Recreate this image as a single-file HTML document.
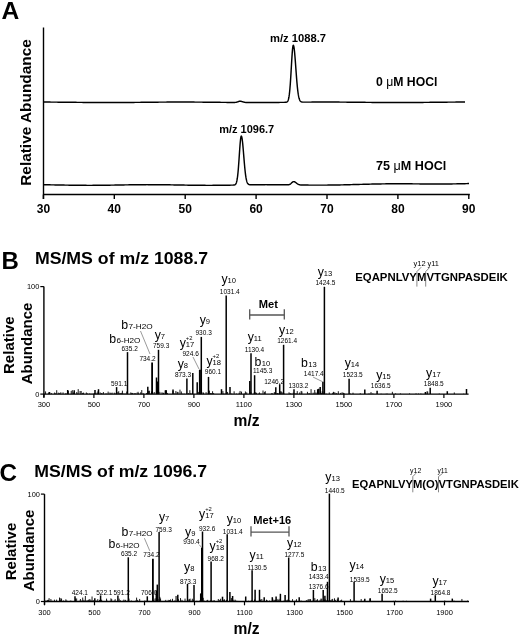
<!DOCTYPE html>
<html><head><meta charset="utf-8"><style>
html,body{margin:0;padding:0;background:#fff;}
body{width:520px;height:634px;overflow:hidden;}
svg{display:block;font-family:"Liberation Sans", sans-serif;filter:grayscale(1);}
</style></head><body>
<svg width="520" height="634" viewBox="0 0 520 634">
<rect width="520" height="634" fill="#fff"/>
<text x="1.6" y="18.6" font-size="24.6" font-weight="bold" fill="#000">A</text>
<line x1="43.50" y1="27.50" x2="43.50" y2="199.00" stroke="#000" stroke-width="1.4"/>
<line x1="43.00" y1="194.50" x2="469.80" y2="194.50" stroke="#000" stroke-width="1.3"/>
<line x1="43.40" y1="194.50" x2="43.40" y2="199.00" stroke="#000" stroke-width="1.4"/>
<text x="43.4" y="212.5" font-size="12" font-weight="bold" text-anchor="middle" fill="#000">30</text>
<line x1="114.30" y1="194.50" x2="114.30" y2="199.00" stroke="#000" stroke-width="1.4"/>
<text x="114.3" y="212.5" font-size="12" font-weight="bold" text-anchor="middle" fill="#000">40</text>
<line x1="185.20" y1="194.50" x2="185.20" y2="199.00" stroke="#000" stroke-width="1.4"/>
<text x="185.2" y="212.5" font-size="12" font-weight="bold" text-anchor="middle" fill="#000">50</text>
<line x1="256.10" y1="194.50" x2="256.10" y2="199.00" stroke="#000" stroke-width="1.4"/>
<text x="256.1" y="212.5" font-size="12" font-weight="bold" text-anchor="middle" fill="#000">60</text>
<line x1="327.00" y1="194.50" x2="327.00" y2="199.00" stroke="#000" stroke-width="1.4"/>
<text x="327.0" y="212.5" font-size="12" font-weight="bold" text-anchor="middle" fill="#000">70</text>
<line x1="397.90" y1="194.50" x2="397.90" y2="199.00" stroke="#000" stroke-width="1.4"/>
<text x="397.9" y="212.5" font-size="12" font-weight="bold" text-anchor="middle" fill="#000">80</text>
<line x1="468.80" y1="194.50" x2="468.80" y2="199.00" stroke="#000" stroke-width="1.4"/>
<text x="468.8" y="212.5" font-size="12" font-weight="bold" text-anchor="middle" fill="#000">90</text>
<text transform="translate(31.2,112.5) rotate(-90)" font-size="15.4" font-weight="bold" text-anchor="middle">Relative Abundance</text>
<polyline points="44.00,102.06 45.00,102.07 46.00,102.07 47.00,102.08 48.00,102.08 49.00,102.09 50.00,102.09 51.00,102.10 52.00,102.11 53.00,102.11 54.00,102.12 55.00,102.13 56.00,102.14 57.00,102.15 58.00,102.15 59.00,102.16 60.00,102.17 61.00,102.18 62.00,102.19 63.00,102.20 64.00,102.21 65.00,102.22 66.00,102.23 67.00,102.24 68.00,102.25 69.00,102.26 70.00,102.28 71.00,102.29 72.00,102.30 73.00,102.31 74.00,102.32 75.00,102.33 76.00,102.34 77.00,102.35 78.00,102.36 79.00,102.37 80.00,102.38 81.00,102.39 82.00,102.40 83.00,102.41 84.00,102.42 85.00,102.43 86.00,102.44 87.00,102.45 88.00,102.46 89.00,102.47 90.00,102.47 91.00,102.48 92.00,102.49 93.00,102.50 94.00,102.50 95.00,102.51 96.00,102.51 97.00,102.52 98.00,102.52 99.00,102.53 100.00,102.53 101.00,102.54 102.00,102.54 103.00,102.54 104.00,102.55 105.00,102.55 106.00,102.55 107.00,102.55 108.00,102.55 109.00,102.55 110.00,102.55 111.00,102.55 112.00,102.55 113.00,102.54 114.00,102.54 115.00,102.54 116.00,102.54 117.00,102.53 118.00,102.53 119.00,102.52 120.00,102.52 121.00,102.51 122.00,102.51 123.00,102.50 124.00,102.49 125.00,102.49 126.00,102.48 127.00,102.47 128.00,102.46 129.00,102.46 130.00,102.45 131.00,102.44 132.00,102.43 133.00,102.42 134.00,102.41 135.00,102.40 136.00,102.39 137.00,102.38 138.00,102.37 139.00,102.36 140.00,102.35 141.00,102.34 142.00,102.33 143.00,102.32 144.00,102.31 145.00,102.29 146.00,102.28 147.00,102.27 148.00,102.26 149.00,102.25 150.00,102.24 151.00,102.23 152.00,102.22 153.00,102.21 154.00,102.20 155.00,102.19 156.00,102.18 157.00,102.17 158.00,102.16 159.00,102.15 160.00,102.14 161.00,102.14 162.00,102.13 163.00,102.12 164.00,102.11 165.00,102.11 166.00,102.10 167.00,102.09 168.00,102.09 169.00,102.08 170.00,102.08 171.00,102.07 172.00,102.07 173.00,102.06 174.00,102.06 175.00,102.06 176.00,102.06 177.00,102.05 178.00,102.05 179.00,102.05 180.00,102.05 181.00,102.05 182.00,102.05 183.00,102.05 184.00,102.05 185.00,102.05 186.00,102.06 187.00,102.06 188.00,102.06 189.00,102.07 190.00,102.07 191.00,102.07 192.00,102.08 193.00,102.09 194.00,102.09 195.00,102.10 196.00,102.10 197.00,102.11 198.00,102.12 199.00,102.13 200.00,102.13 201.00,102.14 202.00,102.15 203.00,102.16 204.00,102.17 205.00,102.18 206.00,102.19 207.00,102.20 208.00,102.21 209.00,102.22 210.00,102.23 211.00,102.24 212.00,102.25 213.00,102.26 214.00,102.27 215.00,102.28 216.00,102.29 217.00,102.30 218.00,102.31 219.00,102.32 220.00,102.33 221.00,102.35 222.00,102.36 223.00,102.37 224.00,102.38 225.00,102.39 226.00,102.40 227.00,102.41 228.00,102.42 229.00,102.43 230.00,102.44 231.00,102.44 231.25,102.45 231.50,102.45 231.75,102.45 232.00,102.45 232.25,102.46 232.50,102.46 232.75,102.46 233.00,102.46 233.25,102.46 233.50,102.46 233.75,102.46 234.00,102.46 234.25,102.45 234.50,102.44 234.75,102.43 235.00,102.42 235.25,102.40 235.50,102.38 235.75,102.35 236.00,102.31 236.25,102.26 236.50,102.21 236.75,102.14 237.00,102.07 237.25,101.99 237.50,101.90 237.75,101.81 238.00,101.71 238.25,101.61 238.50,101.52 238.75,101.43 239.00,101.36 239.25,101.30 239.50,101.25 239.75,101.22 240.00,101.21 240.25,101.22 240.50,101.24 240.75,101.27 241.00,101.32 241.25,101.37 241.50,101.43 241.75,101.50 242.00,101.58 242.25,101.66 242.50,101.74 242.75,101.82 243.00,101.89 243.25,101.97 243.50,102.04 243.75,102.11 244.00,102.17 244.25,102.23 244.50,102.28 244.75,102.32 245.00,102.36 245.25,102.39 245.50,102.42 245.75,102.45 246.00,102.47 246.25,102.48 246.50,102.50 246.75,102.51 247.00,102.52 247.25,102.52 247.50,102.53 247.75,102.53 248.00,102.54 248.25,102.54 248.50,102.54 248.75,102.54 249.00,102.54 249.25,102.55 249.50,102.55 249.75,102.55 250.00,102.55 251.00,102.55 252.00,102.55 253.00,102.55 254.00,102.55 255.00,102.55 256.00,102.55 257.00,102.55 258.00,102.54 259.00,102.54 260.00,102.54 261.00,102.53 262.00,102.53 263.00,102.53 264.00,102.52 265.00,102.52 266.00,102.51 267.00,102.50 268.00,102.50 269.00,102.49 270.00,102.48 271.00,102.48 272.00,102.47 273.00,102.46 274.00,102.45 275.00,102.44 276.00,102.43 277.00,102.42 278.00,102.42 279.00,102.41 280.00,102.40 281.00,102.39 281.25,102.38 281.50,102.38 281.75,102.38 282.00,102.38 282.25,102.37 282.50,102.37 282.75,102.37 283.00,102.36 283.25,102.36 283.50,102.36 283.75,102.36 284.00,102.35 284.25,102.35 284.50,102.35 284.75,102.34 285.00,102.33 285.25,102.32 285.50,102.31 285.75,102.29 286.00,102.26 286.25,102.22 286.50,102.15 286.75,102.06 287.00,101.92 287.25,101.73 287.50,101.47 287.75,101.10 288.00,100.61 288.25,99.96 288.50,99.11 288.75,98.02 289.00,96.65 289.25,94.96 289.50,92.92 289.75,90.50 290.00,87.68 290.25,84.47 290.50,80.89 290.75,77.00 291.00,72.85 291.25,68.57 291.50,64.26 291.75,60.06 292.00,56.12 292.25,52.60 292.50,49.64 292.75,47.37 293.00,45.89 293.25,45.27 293.50,45.43 293.75,46.16 294.00,47.44 294.25,49.21 294.50,51.44 294.75,54.06 295.00,57.00 295.25,60.18 295.50,63.53 295.75,66.96 296.00,70.41 296.25,73.81 296.50,77.10 296.75,80.22 297.00,83.15 297.25,85.85 297.50,88.31 297.75,90.52 298.00,92.47 298.25,94.18 298.50,95.65 298.75,96.90 299.00,97.96 299.25,98.84 299.50,99.56 299.75,100.14 300.00,100.61 300.25,100.99 300.50,101.28 300.75,101.51 301.00,101.68 301.25,101.81 301.50,101.91 301.75,101.98 302.00,102.03 302.25,102.07 302.50,102.10 302.75,102.11 303.00,102.13 303.25,102.13 303.50,102.14 303.75,102.14 304.00,102.14 304.25,102.14 304.50,102.14 304.75,102.14 305.00,102.14 305.25,102.14 305.50,102.14 305.75,102.13 306.00,102.13 306.25,102.13 306.50,102.13 306.75,102.13 307.00,102.12 307.25,102.12 307.50,102.12 307.75,102.12 308.00,102.12 308.25,102.11 308.50,102.11 308.75,102.11 309.00,102.11 309.25,102.11 309.50,102.11 309.75,102.10 310.00,102.10 311.00,102.10 312.00,102.09 313.00,102.08 314.00,102.08 315.00,102.07 316.00,102.07 317.00,102.07 318.00,102.06 319.00,102.06 320.00,102.06 321.00,102.05 322.00,102.05 323.00,102.05 324.00,102.05 325.00,102.05 326.00,102.05 327.00,102.05 328.00,102.05 329.00,102.05 330.00,102.06 331.00,102.06 332.00,102.06 333.00,102.06 334.00,102.07 335.00,102.07 336.00,102.08 337.00,102.08 338.00,102.09 339.00,102.09 340.00,102.10 341.00,102.11 342.00,102.11 343.00,102.12 344.00,102.13 345.00,102.14 346.00,102.15 347.00,102.15 348.00,102.16 349.00,102.17 350.00,102.18 351.00,102.19 352.00,102.20 353.00,102.21 354.00,102.22 355.00,102.23 356.00,102.24 357.00,102.25 358.00,102.26 359.00,102.28 360.00,102.29 361.00,102.30 362.00,102.31 363.00,102.32 364.00,102.33 365.00,102.34 366.00,102.35 367.00,102.36 368.00,102.37 369.00,102.38 370.00,102.39 371.00,102.40 372.00,102.41 373.00,102.42 374.00,102.43 375.00,102.44 376.00,102.45 377.00,102.46 378.00,102.47 379.00,102.47 380.00,102.48 381.00,102.49 382.00,102.50 383.00,102.50 384.00,102.51 385.00,102.51 386.00,102.52 387.00,102.52 388.00,102.53 389.00,102.53 390.00,102.54 391.00,102.54 392.00,102.54 393.00,102.55 394.00,102.55 395.00,102.55 396.00,102.55 397.00,102.55 398.00,102.55 399.00,102.55 400.00,102.55 401.00,102.55 402.00,102.55 403.00,102.54 404.00,102.54 405.00,102.54 406.00,102.53 407.00,102.53 408.00,102.52 409.00,102.52 410.00,102.51 411.00,102.51 412.00,102.50 413.00,102.49 414.00,102.49 415.00,102.48 416.00,102.47 417.00,102.46 418.00,102.46 419.00,102.45 420.00,102.44 421.00,102.43 422.00,102.42 423.00,102.41 424.00,102.40 425.00,102.39 426.00,102.38 427.00,102.37 428.00,102.36 429.00,102.35 430.00,102.34 431.00,102.33 432.00,102.32 433.00,102.31 434.00,102.29 435.00,102.28 436.00,102.27 437.00,102.26 438.00,102.25 439.00,102.24 440.00,102.23 441.00,102.22 442.00,102.21 443.00,102.20 444.00,102.19 445.00,102.18 446.00,102.17 447.00,102.16 448.00,102.15 449.00,102.14 450.00,102.14 451.00,102.13 452.00,102.12 453.00,102.11 454.00,102.11 455.00,102.10 456.00,102.09 457.00,102.09 458.00,102.08 459.00,102.08 460.00,102.07 461.00,102.07 462.00,102.06 463.00,102.06 464.00,102.06 465.00,102.06" fill="none" stroke="#000" stroke-width="1.45" stroke-linejoin="round"/>
<polyline points="44.00,184.74 45.00,184.76 46.00,184.77 47.00,184.78 48.00,184.80 49.00,184.81 50.00,184.83 51.00,184.85 52.00,184.86 53.00,184.88 54.00,184.90 55.00,184.91 56.00,184.93 57.00,184.95 58.00,184.97 59.00,184.99 60.00,185.01 61.00,185.02 62.00,185.04 63.00,185.06 64.00,185.08 65.00,185.10 66.00,185.11 67.00,185.13 68.00,185.15 69.00,185.16 70.00,185.18 71.00,185.20 72.00,185.21 73.00,185.23 74.00,185.24 75.00,185.25 76.00,185.26 77.00,185.28 78.00,185.29 79.00,185.30 80.00,185.31 81.00,185.32 82.00,185.32 83.00,185.33 84.00,185.34 85.00,185.34 86.00,185.34 87.00,185.35 88.00,185.35 89.00,185.35 90.00,185.35 91.00,185.35 92.00,185.35 93.00,185.34 94.00,185.34 95.00,185.34 96.00,185.33 97.00,185.32 98.00,185.32 99.00,185.31 100.00,185.30 101.00,185.29 102.00,185.28 103.00,185.27 104.00,185.25 105.00,185.24 106.00,185.23 107.00,185.21 108.00,185.20 109.00,185.18 110.00,185.17 111.00,185.15 112.00,185.13 113.00,185.12 114.00,185.10 115.00,185.08 116.00,185.06 117.00,185.04 118.00,185.03 119.00,185.01 120.00,184.99 121.00,184.97 122.00,184.95 123.00,184.93 124.00,184.92 125.00,184.90 126.00,184.88 127.00,184.86 128.00,184.85 129.00,184.83 130.00,184.81 131.00,184.80 132.00,184.78 133.00,184.77 134.00,184.76 135.00,184.74 136.00,184.73 137.00,184.72 138.00,184.71 139.00,184.70 140.00,184.69 141.00,184.68 142.00,184.68 143.00,184.67 144.00,184.66 145.00,184.66 146.00,184.66 147.00,184.65 148.00,184.65 149.00,184.65 150.00,184.65 151.00,184.65 152.00,184.65 153.00,184.66 154.00,184.66 155.00,184.67 156.00,184.67 157.00,184.68 158.00,184.69 159.00,184.70 160.00,184.70 161.00,184.72 162.00,184.73 163.00,184.74 164.00,184.75 165.00,184.76 166.00,184.78 167.00,184.79 168.00,184.81 169.00,184.82 170.00,184.84 171.00,184.86 172.00,184.87 173.00,184.89 174.00,184.91 175.00,184.93 176.00,184.94 177.00,184.96 178.00,184.98 179.00,185.00 180.00,185.02 181.00,185.04 182.00,185.05 183.00,185.07 184.00,185.09 185.00,185.11 186.00,185.12 187.00,185.14 188.00,185.16 189.00,185.17 190.00,185.19 191.00,185.21 192.00,185.22 193.00,185.23 194.00,185.25 195.00,185.26 196.00,185.27 197.00,185.28 198.00,185.29 199.00,185.30 200.00,185.31 201.00,185.32 202.00,185.33 203.00,185.33 204.00,185.34 205.00,185.34 206.00,185.35 207.00,185.35 208.00,185.35 209.00,185.35 210.00,185.35 211.00,185.35 212.00,185.35 213.00,185.34 214.00,185.34 215.00,185.33 216.00,185.33 217.00,185.32 218.00,185.31 219.00,185.30 220.00,185.29 221.00,185.28 222.00,185.27 223.00,185.26 224.00,185.25 225.00,185.23 226.00,185.22 227.00,185.20 228.00,185.19 229.00,185.17 229.25,185.17 229.50,185.16 229.75,185.16 230.00,185.16 230.25,185.15 230.50,185.15 230.75,185.14 231.00,185.14 231.25,185.13 231.50,185.13 231.75,185.13 232.00,185.12 232.25,185.12 232.50,185.11 232.75,185.10 233.00,185.10 233.25,185.09 233.50,185.07 233.75,185.05 234.00,185.02 234.25,184.98 234.50,184.93 234.75,184.84 235.00,184.73 235.25,184.56 235.50,184.33 235.75,184.01 236.00,183.59 236.25,183.03 236.50,182.30 236.75,181.36 237.00,180.18 237.25,178.73 237.50,176.98 237.75,174.90 238.00,172.48 238.25,169.72 238.50,166.65 238.75,163.31 239.00,159.75 239.25,156.07 239.50,152.37 239.75,148.77 240.00,145.39 240.25,142.37 240.50,139.83 240.75,137.88 241.00,136.61 241.25,136.07 241.50,136.22 241.75,136.90 242.00,138.08 242.25,139.72 242.50,141.78 242.75,144.18 243.00,146.87 243.25,149.77 243.50,152.79 243.75,155.87 244.00,158.93 244.25,161.93 244.50,164.79 244.75,167.49 245.00,169.99 245.25,172.26 245.50,174.30 245.75,176.11 246.00,177.68 246.25,179.04 246.50,180.18 246.75,181.15 247.00,181.94 247.25,182.59 247.50,183.11 247.75,183.52 248.00,183.84 248.25,184.09 248.50,184.29 248.75,184.43 249.00,184.54 249.25,184.61 249.50,184.67 249.75,184.71 250.00,184.74 250.25,184.75 250.50,184.77 250.75,184.77 251.00,184.78 251.25,184.78 251.50,184.78 251.75,184.78 252.00,184.77 252.25,184.77 252.50,184.77 252.75,184.76 253.00,184.76 253.25,184.76 253.50,184.75 253.75,184.75 254.00,184.75 254.25,184.75 254.50,184.74 254.75,184.74 255.00,184.74 256.00,184.72 257.00,184.71 258.00,184.70 259.00,184.69 260.00,184.69 261.00,184.68 262.00,184.67 263.00,184.67 264.00,184.66 265.00,184.66 266.00,184.65 267.00,184.65 268.00,184.65 269.00,184.65 270.00,184.65 271.00,184.65 272.00,184.66 273.00,184.66 274.00,184.66 275.00,184.67 276.00,184.68 277.00,184.68 278.00,184.69 279.00,184.70 280.00,184.71 281.00,184.72 282.00,184.73 283.00,184.75 284.00,184.76 285.00,184.77 286.00,184.78 286.25,184.79 286.50,184.79 286.75,184.79 287.00,184.79 287.25,184.79 287.50,184.78 287.75,184.77 288.00,184.76 288.25,184.74 288.50,184.71 288.75,184.67 289.00,184.62 289.25,184.56 289.50,184.48 289.75,184.38 290.00,184.25 290.25,184.11 290.50,183.94 290.75,183.75 291.00,183.54 291.25,183.31 291.50,183.07 291.75,182.83 292.00,182.58 292.25,182.35 292.50,182.14 292.75,181.95 293.00,181.80 293.25,181.69 293.50,181.63 293.75,181.61 294.00,181.64 294.25,181.70 294.50,181.78 294.75,181.89 295.00,182.02 295.25,182.18 295.50,182.35 295.75,182.53 296.00,182.72 296.25,182.92 296.50,183.12 296.75,183.31 297.00,183.50 297.25,183.68 297.50,183.85 297.75,184.01 298.00,184.15 298.25,184.28 298.50,184.40 298.75,184.51 299.00,184.60 299.25,184.68 299.50,184.75 299.75,184.80 300.00,184.85 300.25,184.89 300.50,184.93 300.75,184.95 301.00,184.97 301.25,184.99 301.50,185.01 301.75,185.02 302.00,185.03 302.25,185.03 302.50,185.04 302.75,185.04 303.00,185.05 303.25,185.05 303.50,185.06 303.75,185.06 304.00,185.06 304.25,185.06 304.50,185.07 304.75,185.07 305.00,185.07 306.00,185.08 307.00,185.09 308.00,185.09 309.00,185.10 310.00,185.11 311.00,185.11 312.00,185.12 313.00,185.12 314.00,185.12 315.00,185.13 316.00,185.13 317.00,185.13 318.00,185.13 319.00,185.13 320.00,185.13 321.00,185.13 322.00,185.12 323.00,185.12 324.00,185.12 325.00,185.11 326.00,185.10 327.00,185.10 328.00,185.09 329.00,185.08 330.00,185.07 331.00,185.05 332.00,185.04 333.00,185.03 334.00,185.01 335.00,185.00 336.00,184.98 337.00,184.97 338.00,184.95 339.00,184.93 340.00,184.91 341.00,184.89 342.00,184.87 343.00,184.85 344.00,184.82 345.00,184.80 346.00,184.78 347.00,184.75 348.00,184.73 349.00,184.70 350.00,184.67 351.00,184.65 352.00,184.62 353.00,184.59 354.00,184.57 355.00,184.54 356.00,184.51 357.00,184.48 358.00,184.46 359.00,184.43 360.00,184.40 361.00,184.37 362.00,184.35 363.00,184.32 364.00,184.29 365.00,184.26 366.00,184.24 367.00,184.21 368.00,184.19 369.00,184.16 370.00,184.14 371.00,184.11 372.00,184.09 373.00,184.07 374.00,184.04 375.00,184.02 376.00,184.00 377.00,183.98 378.00,183.96 379.00,183.94 380.00,183.93 381.00,183.91 382.00,183.90 383.00,183.88 384.00,183.87 385.00,183.85 386.00,183.84 387.00,183.83 388.00,183.82 389.00,183.81 390.00,183.80 391.00,183.80 392.00,183.79 393.00,183.79 394.00,183.78 395.00,183.78 396.00,183.78 397.00,183.78 398.00,183.78 399.00,183.78 400.00,183.78 401.00,183.78 402.00,183.78 403.00,183.78 404.00,183.79 405.00,183.79 406.00,183.80 407.00,183.80 408.00,183.81 409.00,183.82 410.00,183.82 411.00,183.83 412.00,183.84 413.00,183.85 414.00,183.86 415.00,183.87 416.00,183.87 417.00,183.88 418.00,183.89 419.00,183.90 420.00,183.91 421.00,183.92 422.00,183.93 423.00,183.94 424.00,183.94 425.00,183.95 426.00,183.96 427.00,183.97 428.00,183.97 429.00,183.98 430.00,183.99 431.00,183.99 432.00,184.00 433.00,184.00 434.00,184.00 435.00,184.00 436.00,184.01 437.00,184.01 438.00,184.01 439.00,184.01 440.00,184.00 441.00,184.00 442.00,184.00 443.00,183.99 444.00,183.99 445.00,183.98 446.00,183.97 447.00,183.97 448.00,183.96 449.00,183.95 450.00,183.94 451.00,183.92 452.00,183.91 453.00,183.90 454.00,183.88 455.00,183.87 456.00,183.85 457.00,183.83 458.00,183.81 459.00,183.79 460.00,183.77 461.00,183.75 462.00,183.73 463.00,183.71 464.00,183.69 465.00,183.66 466.00,183.64 467.00,183.61 468.00,183.59 469.00,183.56" fill="none" stroke="#000" stroke-width="1.45" stroke-linejoin="round"/>
<text x="270" y="42.2" font-size="11" font-weight="bold" textLength="56" lengthAdjust="spacingAndGlyphs" fill="#000">m/z 1088.7</text>
<text x="219.2" y="132.8" font-size="11" font-weight="bold" textLength="55" lengthAdjust="spacingAndGlyphs" fill="#000">m/z 1096.7</text>
<text x="376" y="85.6" font-size="12" font-weight="bold" textLength="61.5" lengthAdjust="spacingAndGlyphs">0 <tspan font-weight="normal">μ</tspan>M HOCl</text>
<text x="376" y="170" font-size="12" font-weight="bold" textLength="70.3" lengthAdjust="spacingAndGlyphs">75 <tspan font-weight="normal">μ</tspan>M HOCl</text>
<text x="1.6" y="268.8" font-size="24" font-weight="bold" fill="#000">B</text>
<text x="34.9" y="263.6" font-size="17.2" font-weight="bold" textLength="173.2" lengthAdjust="spacingAndGlyphs" fill="#000">MS/MS of m/z 1088.7</text>
<text transform="translate(13.6,345.2) rotate(-90)" font-size="15" font-weight="bold" text-anchor="middle">Relative</text>
<text transform="translate(31.8,343.5) rotate(-90)" font-size="15" font-weight="bold" text-anchor="middle">Abundance</text>
<text x="233.6" y="425.8" font-size="16" font-weight="bold" textLength="26" lengthAdjust="spacingAndGlyphs" fill="#000">m/z</text>
<line x1="43.90" y1="286.60" x2="43.90" y2="397.30" stroke="#000" stroke-width="1.4"/>
<line x1="40.30" y1="286.60" x2="43.90" y2="286.60" stroke="#000" stroke-width="1.2"/>
<line x1="40.30" y1="394.10" x2="43.90" y2="394.10" stroke="#000" stroke-width="1.2"/>
<text x="39.3" y="289.0" font-size="7.4" text-anchor="end" fill="#000">100</text>
<text x="39.3" y="396.70000000000005" font-size="7.4" text-anchor="end" fill="#000">0</text>
<path d="M45.57 394.10V391.38 M48.35 394.10V393.24 M49.82 394.10V392.14 M51.32 394.10V393.08 M54.63 394.10V392.52 M55.45 394.10V393.36 M56.71 394.10V390.18 M58.32 394.10V392.65 M59.71 394.10V392.91 M60.83 394.10V392.27 M63.04 394.10V392.37 M65.45 394.10V393.60 M66.12 394.10V393.30 M68.38 394.10V390.94 M71.21 394.10V391.04 M72.27 394.10V390.12 M73.57 394.10V392.50 M74.53 394.10V393.09 M76.77 394.10V392.03 M77.50 394.10V393.67 M78.21 394.10V389.12 M80.08 394.10V391.00 M81.16 394.10V391.02 M82.64 394.10V392.91 M83.57 394.10V392.62 M86.36 394.10V392.46 M87.62 394.10V393.37 M89.47 394.10V393.51 M90.96 394.10V393.65 M93.18 394.10V393.45 M94.50 394.10V393.02 M95.80 394.10V393.45 M97.11 394.10V392.49 M98.07 394.10V391.17 M100.15 394.10V392.35 M101.34 394.10V393.30 M101.95 394.10V393.05 M103.39 394.10V392.05 M105.31 394.10V393.56 M106.73 394.10V393.49 M108.14 394.10V391.60 M109.98 394.10V392.49 M111.01 394.10V393.29 M112.08 394.10V392.57 M114.24 394.10V392.67 M115.24 394.10V393.40 M116.46 394.10V393.34 M117.91 394.10V392.01 M118.74 394.10V391.23 M119.46 394.10V393.52 M120.28 394.10V392.99 M121.69 394.10V392.84 M122.42 394.10V390.67 M123.87 394.10V393.43 M125.22 394.10V393.54 M126.75 394.10V391.52 M130.83 394.10V392.39 M131.57 394.10V393.25 M132.25 394.10V392.93 M132.91 394.10V393.09 M134.60 394.10V393.29 M135.44 394.10V393.35 M137.02 394.10V392.67 M138.07 394.10V391.80 M138.68 394.10V393.30 M140.70 394.10V392.30 M141.75 394.10V390.06 M143.10 394.10V393.09 M146.64 394.10V392.99 M147.46 394.10V393.48 M148.46 394.10V390.84 M149.55 394.10V390.73 M150.47 394.10V393.62 M151.52 394.10V391.50 M152.21 394.10V392.10 M153.01 394.10V393.35 M154.21 394.10V391.99 M156.28 394.10V392.30 M157.44 394.10V392.43 M158.51 394.10V392.30 M159.86 394.10V391.87 M162.01 394.10V392.29 M163.17 394.10V392.96 M163.78 394.10V392.72 M166.47 394.10V390.38 M167.41 394.10V392.95 M173.03 394.10V389.16 M174.37 394.10V393.50 M175.88 394.10V391.05 M177.22 394.10V391.92 M178.03 394.10V391.93 M179.98 394.10V389.64 M181.34 394.10V391.49 M182.75 394.10V393.63 M184.25 394.10V393.65 M187.01 394.10V393.63 M188.41 394.10V393.10 M189.85 394.10V390.23 M190.86 394.10V393.07 M192.41 394.10V392.76 M198.63 394.10V391.92 M199.60 394.10V393.36 M201.22 394.10V393.11 M203.01 394.10V392.21 M203.63 394.10V392.86 M206.09 394.10V392.17 M208.13 394.10V392.82 M209.42 394.10V390.62 M210.23 394.10V393.06 M210.94 394.10V393.09 M211.64 394.10V393.36 M212.59 394.10V391.23 M213.61 394.10V393.07 M222.92 394.10V391.06 M223.69 394.10V393.56 M225.14 394.10V393.60 M227.57 394.10V391.95 M231.45 394.10V393.70 M232.05 394.10V393.67 M234.11 394.10V391.32 M236.45 394.10V393.57 M239.17 394.10V392.72 M240.07 394.10V390.94 M241.51 394.10V391.62 M244.42 394.10V393.61 M245.41 394.10V391.47 M246.73 394.10V392.37 M250.90 394.10V391.95 M254.13 394.10V392.72 M255.33 394.10V392.26 M256.44 394.10V392.76 M258.38 394.10V393.60 M259.44 394.10V392.45 M260.93 394.10V393.46 M263.00 394.10V390.49 M264.43 394.10V392.09 M265.27 394.10V391.19 M271.80 394.10V393.08 M272.55 394.10V393.57 M274.34 394.10V392.10 M275.27 394.10V392.80 M275.88 394.10V393.55 M276.84 394.10V393.48 M277.46 394.10V393.08 M278.14 394.10V393.64 M278.87 394.10V393.36 M279.57 394.10V392.47 M280.34 394.10V391.23 M281.38 394.10V391.49 M282.79 394.10V392.36 M284.10 394.10V393.58 M289.05 394.10V392.28 M290.18 394.10V393.11 M291.16 394.10V393.55 M293.21 394.10V392.66 M294.22 394.10V393.46 M295.99 394.10V393.09 M297.25 394.10V391.13 M299.69 394.10V392.41 M301.17 394.10V390.96 M301.92 394.10V391.43 M307.44 394.10V391.84 M308.75 394.10V393.34 M309.67 394.10V393.29 M311.07 394.10V389.14 M313.14 394.10V392.65 M314.73 394.10V389.96 M315.93 394.10V392.37 M317.08 394.10V393.38 M317.80 394.10V391.54 M318.72 394.10V393.66 M320.87 394.10V391.34 M321.61 394.10V393.08 M322.91 394.10V391.33 M324.02 394.10V393.06 M326.10 394.10V393.58 M329.25 394.10V392.42 M332.71 394.10V392.75 M333.51 394.10V391.83 M334.79 394.10V392.23 M335.63 394.10V393.53 M336.70 394.10V393.07 M338.30 394.10V391.21 M340.62 394.10V392.92 M342.10 394.10V392.27 M343.47 394.10V392.81 M344.35 394.10V393.42 M350.27 394.10V393.48 M353.01 394.10V392.68 M360.24 394.10V393.22 M364.63 394.10V393.25 M368.34 394.10V393.63 M369.66 394.10V393.62 M371.01 394.10V392.08 M372.85 394.10V393.39 M381.09 394.10V393.67 M386.18 394.10V393.70 M387.30 394.10V393.67 M392.37 394.10V391.80 M395.62 394.10V393.39 M400.41 394.10V393.45 M409.59 394.10V393.41 M416.05 394.10V393.36 M418.48 394.10V393.55 M420.85 394.10V393.50 M425.79 394.10V393.29 M427.08 394.10V391.18 M427.73 394.10V391.61 M439.25 394.10V393.54 M454.29 394.10V392.46 M463.70 394.10V393.66" stroke="#000" stroke-width="0.9" fill="none"/>
<line x1="49.20" y1="394.10" x2="49.20" y2="392.00" stroke="#000" stroke-width="1.5"/>
<line x1="67.70" y1="394.10" x2="67.70" y2="390.00" stroke="#000" stroke-width="1.5"/>
<line x1="74.20" y1="394.10" x2="74.20" y2="390.30" stroke="#000" stroke-width="1.5"/>
<line x1="95.00" y1="394.10" x2="95.00" y2="390.00" stroke="#000" stroke-width="1.5"/>
<line x1="98.50" y1="394.10" x2="98.50" y2="389.20" stroke="#000" stroke-width="1.5"/>
<line x1="116.60" y1="394.10" x2="116.60" y2="387.10" stroke="#000" stroke-width="1.5"/>
<line x1="127.50" y1="394.10" x2="127.50" y2="352.10" stroke="#000" stroke-width="1.5"/>
<line x1="147.80" y1="394.10" x2="147.80" y2="386.70" stroke="#000" stroke-width="1.5"/>
<line x1="152.10" y1="394.10" x2="152.10" y2="362.50" stroke="#000" stroke-width="1.8"/>
<line x1="156.50" y1="394.10" x2="156.50" y2="377.50" stroke="#000" stroke-width="1.5"/>
<line x1="157.30" y1="394.10" x2="157.30" y2="381.50" stroke="#000" stroke-width="1.5"/>
<line x1="158.50" y1="394.10" x2="158.50" y2="349.80" stroke="#000" stroke-width="1.5"/>
<line x1="166.00" y1="394.10" x2="166.00" y2="390.20" stroke="#000" stroke-width="1.5"/>
<line x1="165.40" y1="394.10" x2="165.40" y2="390.30" stroke="#000" stroke-width="1.5"/>
<line x1="173.00" y1="394.10" x2="173.00" y2="390.30" stroke="#000" stroke-width="1.5"/>
<line x1="186.90" y1="394.10" x2="186.90" y2="378.50" stroke="#000" stroke-width="1.5"/>
<line x1="192.80" y1="394.10" x2="192.80" y2="373.10" stroke="#000" stroke-width="1.5"/>
<line x1="197.20" y1="394.10" x2="197.20" y2="382.30" stroke="#000" stroke-width="1.5"/>
<line x1="199.90" y1="394.10" x2="199.90" y2="369.70" stroke="#000" stroke-width="2.0"/>
<line x1="201.30" y1="394.10" x2="201.30" y2="336.90" stroke="#000" stroke-width="1.5"/>
<line x1="208.50" y1="394.10" x2="208.50" y2="376.90" stroke="#000" stroke-width="1.5"/>
<line x1="221.50" y1="394.10" x2="221.50" y2="389.20" stroke="#000" stroke-width="1.5"/>
<line x1="226.20" y1="394.10" x2="226.20" y2="295.50" stroke="#000" stroke-width="1.5"/>
<line x1="230.00" y1="394.10" x2="230.00" y2="387.00" stroke="#000" stroke-width="1.5"/>
<line x1="249.80" y1="394.10" x2="249.80" y2="381.00" stroke="#000" stroke-width="1.5"/>
<line x1="251.00" y1="394.10" x2="251.00" y2="353.30" stroke="#000" stroke-width="1.5"/>
<line x1="254.60" y1="394.10" x2="254.60" y2="375.20" stroke="#000" stroke-width="1.5"/>
<line x1="275.80" y1="394.10" x2="275.80" y2="387.20" stroke="#000" stroke-width="1.5"/>
<line x1="279.70" y1="394.10" x2="279.70" y2="384.20" stroke="#000" stroke-width="1.5"/>
<line x1="283.60" y1="394.10" x2="283.60" y2="344.80" stroke="#000" stroke-width="1.5"/>
<line x1="294.00" y1="394.10" x2="294.00" y2="389.20" stroke="#000" stroke-width="1.5"/>
<line x1="317.70" y1="394.10" x2="317.70" y2="389.20" stroke="#000" stroke-width="1.5"/>
<line x1="318.80" y1="394.10" x2="318.80" y2="388.70" stroke="#000" stroke-width="1.5"/>
<line x1="320.20" y1="394.10" x2="320.20" y2="386.90" stroke="#000" stroke-width="1.5"/>
<line x1="322.90" y1="394.10" x2="322.90" y2="381.70" stroke="#000" stroke-width="1.5"/>
<line x1="324.40" y1="394.10" x2="324.40" y2="286.80" stroke="#000" stroke-width="1.5"/>
<line x1="349.10" y1="394.10" x2="349.10" y2="378.70" stroke="#000" stroke-width="1.5"/>
<line x1="364.80" y1="394.10" x2="364.80" y2="389.60" stroke="#000" stroke-width="1.5"/>
<line x1="377.10" y1="394.10" x2="377.10" y2="390.80" stroke="#000" stroke-width="1.5"/>
<line x1="425.40" y1="394.10" x2="425.40" y2="392.00" stroke="#000" stroke-width="1.5"/>
<line x1="430.20" y1="394.10" x2="430.20" y2="387.70" stroke="#000" stroke-width="1.5"/>
<line x1="447.30" y1="394.10" x2="447.30" y2="391.20" stroke="#000" stroke-width="1.5"/>
<line x1="466.50" y1="394.10" x2="466.50" y2="389.00" stroke="#000" stroke-width="1.5"/>
<line x1="43.90" y1="394.10" x2="468.60" y2="394.10" stroke="#000" stroke-width="1.4"/>
<line x1="43.90" y1="394.10" x2="43.90" y2="397.90" stroke="#000" stroke-width="1.2"/>
<text x="43.9" y="407.40000000000003" font-size="7.5" text-anchor="middle" fill="#000">300</text>
<line x1="93.90" y1="394.10" x2="93.90" y2="397.90" stroke="#000" stroke-width="1.2"/>
<text x="93.9" y="407.40000000000003" font-size="7.5" text-anchor="middle" fill="#000">500</text>
<line x1="143.90" y1="394.10" x2="143.90" y2="397.90" stroke="#000" stroke-width="1.2"/>
<text x="143.9" y="407.40000000000003" font-size="7.5" text-anchor="middle" fill="#000">700</text>
<line x1="193.90" y1="394.10" x2="193.90" y2="397.90" stroke="#000" stroke-width="1.2"/>
<text x="193.9" y="407.40000000000003" font-size="7.5" text-anchor="middle" fill="#000">900</text>
<line x1="243.90" y1="394.10" x2="243.90" y2="397.90" stroke="#000" stroke-width="1.2"/>
<text x="243.9" y="407.40000000000003" font-size="7.5" text-anchor="middle" fill="#000">1100</text>
<line x1="293.90" y1="394.10" x2="293.90" y2="397.90" stroke="#000" stroke-width="1.2"/>
<text x="293.9" y="407.40000000000003" font-size="7.5" text-anchor="middle" fill="#000">1300</text>
<line x1="343.90" y1="394.10" x2="343.90" y2="397.90" stroke="#000" stroke-width="1.2"/>
<text x="343.9" y="407.40000000000003" font-size="7.5" text-anchor="middle" fill="#000">1500</text>
<line x1="393.90" y1="394.10" x2="393.90" y2="397.90" stroke="#000" stroke-width="1.2"/>
<text x="393.9" y="407.40000000000003" font-size="7.5" text-anchor="middle" fill="#000">1700</text>
<line x1="443.90" y1="394.10" x2="443.90" y2="397.90" stroke="#000" stroke-width="1.2"/>
<text x="443.9" y="407.40000000000003" font-size="7.5" text-anchor="middle" fill="#000">1900</text>
<text x="109.19" y="343.3" font-size="12.3">b</text>
<text x="116.43" y="343.3" font-size="7.6" textLength="24.0" lengthAdjust="spacingAndGlyphs">6-H2O</text>
<text x="121.19" y="328.7" font-size="12.3">b</text>
<text x="128.43" y="328.7" font-size="7.6" textLength="24.2" lengthAdjust="spacingAndGlyphs">7-H2O</text>
<text x="154.68" y="339.2" font-size="12.3">y</text>
<text x="160.83" y="339.2" font-size="7.6">7</text>
<text x="177.68" y="368.0" font-size="12.3">y</text>
<text x="183.83" y="368.0" font-size="7.6">8</text>
<text x="179.68" y="347.3" font-size="12.3">y</text>
<text x="185.83" y="347.3" font-size="7.6">17</text>
<text x="185.83" y="340.30" font-size="5.8">+2</text>
<text x="199.68" y="323.7" font-size="12.3">y</text>
<text x="205.83" y="323.7" font-size="7.6">9</text>
<text x="206.38" y="365.4" font-size="12.3">y</text>
<text x="212.53" y="365.4" font-size="7.6">18</text>
<text x="212.53" y="358.40" font-size="5.8">+2</text>
<text x="221.38" y="283.0" font-size="12.3">y</text>
<text x="227.53" y="283.0" font-size="7.6">10</text>
<text x="247.68" y="341.2" font-size="12.3">y</text>
<text x="253.83" y="341.2" font-size="7.6">11</text>
<text x="254.59" y="365.6" font-size="12.3">b</text>
<text x="261.83" y="365.6" font-size="7.6">10</text>
<text x="279.08" y="333.7" font-size="12.3">y</text>
<text x="285.23" y="333.7" font-size="7.6">12</text>
<text x="301.09" y="367.3" font-size="12.3">b</text>
<text x="308.33" y="367.3" font-size="7.6">13</text>
<text x="317.68" y="276.4" font-size="12.3">y</text>
<text x="323.83" y="276.4" font-size="7.6">13</text>
<text x="344.68" y="367.1" font-size="12.3">y</text>
<text x="350.83" y="367.1" font-size="7.6">14</text>
<text x="376.18" y="378.7" font-size="12.3">y</text>
<text x="382.33" y="378.7" font-size="7.6">15</text>
<text x="426.08" y="376.9" font-size="12.3">y</text>
<text x="432.23" y="376.9" font-size="7.6">17</text>
<text x="111" y="385.6" font-size="6.5">591.1</text>
<text x="121.5" y="350.6" font-size="6.5">635.2</text>
<text x="139.4" y="361" font-size="6.5">734.2</text>
<text x="153.0" y="348.3" font-size="6.5">759.3</text>
<text x="174.9" y="376.9" font-size="6.5">873.3</text>
<text x="182.5" y="356.3" font-size="6.5">924.6</text>
<text x="195.5" y="334.6" font-size="6.5">930.3</text>
<text x="204.8" y="374.2" font-size="6.5">960.1</text>
<text x="219.8" y="293.7" font-size="6.5">1031.4</text>
<text x="244.8" y="351.5" font-size="6.5">1130.4</text>
<text x="252.9" y="373.2" font-size="6.5">1145.3</text>
<text x="264.2" y="383.5" font-size="6.5">1246.2</text>
<text x="277.2" y="343.2" font-size="6.5">1261.4</text>
<text x="288.5" y="387.7" font-size="6.5">1303.2</text>
<text x="303.8" y="375.6" font-size="6.5">1417.4</text>
<text x="315.5" y="285.1" font-size="6.5">1424.5</text>
<text x="342.8" y="376.9" font-size="6.5">1523.5</text>
<text x="370.8" y="388.2" font-size="6.5">1636.5</text>
<text x="423.8" y="385.8" font-size="6.5">1848.5</text>
<line x1="140.50" y1="331.00" x2="150.00" y2="354.00" stroke="#555" stroke-width="0.6"/>
<line x1="193.00" y1="357.00" x2="199.00" y2="369.00" stroke="#555" stroke-width="0.6"/>
<line x1="313.10" y1="377.10" x2="322.50" y2="381.70" stroke="#555" stroke-width="0.6"/>
<line x1="249.70" y1="309.20" x2="249.70" y2="319.60" stroke="#555" stroke-width="1.3"/>
<line x1="284.30" y1="309.20" x2="284.30" y2="319.60" stroke="#555" stroke-width="1.3"/>
<line x1="249.70" y1="315.00" x2="284.30" y2="315.00" stroke="#555" stroke-width="1.3"/>
<text x="258.7" y="307.7" font-size="11" font-weight="bold" textLength="19.2" lengthAdjust="spacingAndGlyphs" fill="#000">Met</text>
<text x="355.2" y="281.4" font-size="10.6" font-weight="bold" textLength="152.6" lengthAdjust="spacingAndGlyphs" fill="#000">EQAPNLVYMVTGNPASDEIK</text>
<text x="413.5" y="266.0" font-size="7.5" textLength="12.1" lengthAdjust="spacingAndGlyphs" fill="#000">y12</text>
<text x="427.6" y="266.0" font-size="7.5" textLength="11.4" lengthAdjust="spacingAndGlyphs" fill="#000">y11</text>
<path d="M421.2 267.2 L416.9 271.6 V286.6 M429.9 267.2 L425.7 271.6 V286.6" stroke="#555" stroke-width="0.7" fill="none"/>
<text x="-0.6" y="480.9" font-size="24.2" font-weight="bold" fill="#000">C</text>
<text x="34.3" y="476.8" font-size="17.2" font-weight="bold" textLength="172.8" lengthAdjust="spacingAndGlyphs" fill="#000">MS/MS of m/z 1096.7</text>
<text transform="translate(15.9,551.5) rotate(-90)" font-size="15" font-weight="bold" text-anchor="middle">Relative</text>
<text transform="translate(33.9,550.5) rotate(-90)" font-size="15" font-weight="bold" text-anchor="middle">Abundance</text>
<text x="233.6" y="634.3" font-size="16" font-weight="bold" textLength="26" lengthAdjust="spacingAndGlyphs" fill="#000">m/z</text>
<line x1="44.50" y1="494.10" x2="44.50" y2="604.70" stroke="#000" stroke-width="1.4"/>
<line x1="40.90" y1="494.10" x2="44.50" y2="494.10" stroke="#000" stroke-width="1.2"/>
<line x1="40.90" y1="601.50" x2="44.50" y2="601.50" stroke="#000" stroke-width="1.2"/>
<text x="39.9" y="496.5" font-size="7.4" text-anchor="end" fill="#000">100</text>
<text x="39.9" y="604.1" font-size="7.4" text-anchor="end" fill="#000">0</text>
<path d="M45.50 601.50V600.68 M46.52 601.50V600.61 M47.58 601.50V599.93 M48.45 601.50V599.84 M49.09 601.50V598.15 M50.90 601.50V599.03 M51.89 601.50V600.77 M52.94 601.50V600.89 M54.44 601.50V599.67 M56.62 601.50V599.63 M59.50 601.50V597.57 M60.16 601.50V599.99 M60.84 601.50V598.17 M61.55 601.50V598.70 M62.31 601.50V600.91 M63.57 601.50V600.47 M65.87 601.50V599.34 M66.82 601.50V600.47 M70.33 601.50V600.58 M71.34 601.50V600.84 M75.50 601.50V598.50 M76.65 601.50V598.45 M79.26 601.50V600.68 M80.41 601.50V599.01 M81.03 601.50V600.91 M81.79 601.50V600.65 M82.71 601.50V597.56 M83.93 601.50V599.82 M85.35 601.50V596.00 M87.06 601.50V600.16 M88.32 601.50V599.92 M89.24 601.50V599.19 M90.21 601.50V599.51 M91.37 601.50V600.63 M92.05 601.50V596.49 M93.30 601.50V600.17 M94.92 601.50V600.84 M96.15 601.50V600.55 M97.77 601.50V599.14 M99.54 601.50V599.86 M100.93 601.50V600.63 M101.66 601.50V599.69 M106.55 601.50V598.61 M107.19 601.50V600.65 M109.76 601.50V600.91 M110.95 601.50V598.32 M111.73 601.50V599.09 M114.20 601.50V600.55 M115.16 601.50V599.13 M117.76 601.50V601.03 M119.15 601.50V598.61 M120.34 601.50V600.22 M123.00 601.50V600.73 M123.89 601.50V599.56 M124.56 601.50V600.70 M125.60 601.50V599.84 M126.92 601.50V601.09 M127.64 601.50V600.77 M129.00 601.50V598.59 M131.32 601.50V600.48 M135.51 601.50V600.65 M136.59 601.50V597.62 M137.65 601.50V599.89 M139.67 601.50V598.93 M140.69 601.50V600.93 M144.77 601.50V600.53 M146.03 601.50V600.79 M146.81 601.50V600.93 M148.95 601.50V600.75 M152.86 601.50V596.00 M153.58 601.50V600.20 M154.27 601.50V600.95 M154.98 601.50V598.54 M156.19 601.50V598.05 M157.25 601.50V600.80 M158.02 601.50V599.06 M159.87 601.50V596.86 M160.55 601.50V598.47 M161.84 601.50V600.87 M164.19 601.50V600.89 M165.77 601.50V599.88 M167.14 601.50V600.98 M168.19 601.50V599.87 M169.61 601.50V599.99 M170.58 601.50V599.38 M171.87 601.50V600.98 M172.53 601.50V598.83 M174.91 601.50V600.42 M175.99 601.50V596.00 M177.22 601.50V596.00 M178.48 601.50V599.19 M180.52 601.50V598.08 M182.01 601.50V599.84 M185.04 601.50V598.59 M186.12 601.50V601.04 M188.17 601.50V599.48 M189.45 601.50V599.22 M190.10 601.50V598.61 M191.51 601.50V600.85 M192.33 601.50V598.73 M193.35 601.50V599.80 M194.06 601.50V600.89 M196.88 601.50V600.74 M199.74 601.50V600.52 M200.59 601.50V600.67 M203.24 601.50V597.80 M204.08 601.50V600.52 M206.27 601.50V601.03 M207.06 601.50V600.13 M207.72 601.50V599.84 M209.01 601.50V600.95 M210.34 601.50V600.44 M211.24 601.50V600.13 M212.89 601.50V600.67 M214.11 601.50V600.01 M217.08 601.50V601.04 M218.31 601.50V598.99 M219.74 601.50V599.88 M220.62 601.50V598.77 M221.45 601.50V601.04 M223.72 601.50V599.69 M224.48 601.50V599.37 M225.10 601.50V600.71 M226.57 601.50V599.87 M229.65 601.50V600.45 M230.45 601.50V600.76 M231.41 601.50V598.05 M232.45 601.50V600.22 M233.87 601.50V599.75 M235.24 601.50V599.71 M236.70 601.50V600.76 M238.03 601.50V600.95 M239.29 601.50V601.03 M248.57 601.50V600.71 M250.92 601.50V600.75 M251.77 601.50V600.43 M252.38 601.50V601.04 M254.51 601.50V599.47 M259.03 601.50V600.85 M260.49 601.50V599.55 M261.80 601.50V599.01 M263.14 601.50V600.72 M264.55 601.50V600.87 M266.49 601.50V599.73 M267.10 601.50V600.26 M269.53 601.50V600.54 M272.68 601.50V598.60 M273.93 601.50V599.75 M274.66 601.50V600.37 M275.42 601.50V599.69 M277.07 601.50V598.97 M278.13 601.50V600.04 M279.07 601.50V598.87 M280.30 601.50V599.94 M281.45 601.50V601.10 M282.64 601.50V601.03 M283.95 601.50V600.55 M285.24 601.50V600.71 M286.29 601.50V600.25 M287.35 601.50V599.70 M289.62 601.50V600.31 M291.06 601.50V600.88 M292.54 601.50V599.16 M295.13 601.50V600.58 M296.48 601.50V599.23 M300.97 601.50V600.60 M301.58 601.50V600.87 M303.37 601.50V601.10 M305.14 601.50V600.97 M306.36 601.50V600.11 M307.86 601.50V599.57 M308.85 601.50V599.14 M309.92 601.50V599.15 M310.57 601.50V599.20 M312.37 601.50V600.91 M313.33 601.50V600.31 M314.14 601.50V601.00 M314.81 601.50V598.10 M316.19 601.50V599.86 M317.46 601.50V599.16 M318.77 601.50V600.73 M320.03 601.50V599.81 M320.95 601.50V598.61 M321.83 601.50V598.78 M324.26 601.50V599.68 M325.28 601.50V599.38 M326.71 601.50V600.21 M328.12 601.50V600.25 M329.35 601.50V600.91 M330.15 601.50V600.26 M330.91 601.50V600.41 M331.85 601.50V599.34 M332.65 601.50V598.89 M334.50 601.50V598.34 M335.35 601.50V599.87 M337.30 601.50V599.23 M337.93 601.50V600.11 M340.55 601.50V600.43 M341.62 601.50V599.63 M346.04 601.50V601.03 M350.42 601.50V599.14 M355.98 601.50V600.82 M361.18 601.50V599.03 M363.71 601.50V601.07 M364.35 601.50V599.95 M368.02 601.50V600.94 M369.97 601.50V598.72 M393.44 601.50V600.87 M395.41 601.50V600.64 M403.12 601.50V600.72 M406.49 601.50V600.80 M434.82 601.50V601.02 M444.78 601.50V600.53 M454.04 601.50V600.62 M461.91 601.50V598.98 M467.50 601.50V600.63" stroke="#000" stroke-width="0.9" fill="none"/>
<line x1="75.00" y1="601.50" x2="75.00" y2="596.30" stroke="#000" stroke-width="1.5"/>
<line x1="94.80" y1="601.50" x2="94.80" y2="598.30" stroke="#000" stroke-width="1.5"/>
<line x1="100.60" y1="601.50" x2="100.60" y2="595.40" stroke="#000" stroke-width="1.5"/>
<line x1="117.90" y1="601.50" x2="117.90" y2="595.40" stroke="#000" stroke-width="1.5"/>
<line x1="128.30" y1="601.50" x2="128.30" y2="557.30" stroke="#000" stroke-width="1.5"/>
<line x1="147.30" y1="601.50" x2="147.30" y2="596.30" stroke="#000" stroke-width="1.5"/>
<line x1="152.90" y1="601.50" x2="152.90" y2="558.70" stroke="#000" stroke-width="1.8"/>
<line x1="156.30" y1="601.50" x2="156.30" y2="590.60" stroke="#000" stroke-width="1.5"/>
<line x1="157.30" y1="601.50" x2="157.30" y2="584.60" stroke="#000" stroke-width="1.5"/>
<line x1="159.10" y1="601.50" x2="159.10" y2="531.90" stroke="#000" stroke-width="1.5"/>
<line x1="177.80" y1="601.50" x2="177.80" y2="594.70" stroke="#000" stroke-width="1.5"/>
<line x1="187.50" y1="601.50" x2="187.50" y2="583.90" stroke="#000" stroke-width="1.5"/>
<line x1="194.00" y1="601.50" x2="194.00" y2="584.90" stroke="#000" stroke-width="1.5"/>
<line x1="200.70" y1="601.50" x2="200.70" y2="593.40" stroke="#000" stroke-width="1.5"/>
<line x1="201.80" y1="601.50" x2="201.80" y2="547.80" stroke="#000" stroke-width="1.6"/>
<line x1="202.50" y1="601.50" x2="202.50" y2="531.50" stroke="#000" stroke-width="1.5"/>
<line x1="211.10" y1="601.50" x2="211.10" y2="561.60" stroke="#000" stroke-width="1.5"/>
<line x1="222.50" y1="601.50" x2="222.50" y2="596.70" stroke="#000" stroke-width="1.5"/>
<line x1="227.20" y1="601.50" x2="227.20" y2="534.30" stroke="#000" stroke-width="1.5"/>
<line x1="229.90" y1="601.50" x2="229.90" y2="592.00" stroke="#000" stroke-width="1.5"/>
<line x1="232.60" y1="601.50" x2="232.60" y2="596.00" stroke="#000" stroke-width="1.5"/>
<line x1="245.70" y1="601.50" x2="245.70" y2="596.50" stroke="#000" stroke-width="1.5"/>
<line x1="252.10" y1="601.50" x2="252.10" y2="570.30" stroke="#000" stroke-width="1.5"/>
<line x1="255.10" y1="601.50" x2="255.10" y2="589.80" stroke="#000" stroke-width="1.5"/>
<line x1="259.50" y1="601.50" x2="259.50" y2="589.80" stroke="#000" stroke-width="1.5"/>
<line x1="264.20" y1="601.50" x2="264.20" y2="597.20" stroke="#000" stroke-width="1.5"/>
<line x1="272.30" y1="601.50" x2="272.30" y2="597.20" stroke="#000" stroke-width="1.5"/>
<line x1="276.10" y1="601.50" x2="276.10" y2="596.50" stroke="#000" stroke-width="1.5"/>
<line x1="280.40" y1="601.50" x2="280.40" y2="593.80" stroke="#000" stroke-width="1.5"/>
<line x1="285.10" y1="601.50" x2="285.10" y2="594.90" stroke="#000" stroke-width="1.5"/>
<line x1="288.70" y1="601.50" x2="288.70" y2="557.50" stroke="#000" stroke-width="1.5"/>
<line x1="299.20" y1="601.50" x2="299.20" y2="597.20" stroke="#000" stroke-width="1.5"/>
<line x1="313.40" y1="601.50" x2="313.40" y2="590.00" stroke="#000" stroke-width="1.5"/>
<line x1="323.20" y1="601.50" x2="323.20" y2="590.00" stroke="#000" stroke-width="1.5"/>
<line x1="324.90" y1="601.50" x2="324.90" y2="595.70" stroke="#000" stroke-width="1.5"/>
<line x1="327.50" y1="601.50" x2="327.50" y2="581.80" stroke="#000" stroke-width="1.5"/>
<line x1="329.40" y1="601.50" x2="329.40" y2="493.60" stroke="#000" stroke-width="1.5"/>
<line x1="338.10" y1="601.50" x2="338.10" y2="597.40" stroke="#000" stroke-width="1.5"/>
<line x1="354.10" y1="601.50" x2="354.10" y2="581.80" stroke="#000" stroke-width="1.5"/>
<line x1="364.80" y1="601.50" x2="364.80" y2="598.80" stroke="#000" stroke-width="1.5"/>
<line x1="370.20" y1="601.50" x2="370.20" y2="598.30" stroke="#000" stroke-width="1.5"/>
<line x1="382.10" y1="601.50" x2="382.10" y2="593.70" stroke="#000" stroke-width="1.5"/>
<line x1="430.60" y1="601.50" x2="430.60" y2="598.60" stroke="#000" stroke-width="1.5"/>
<line x1="435.30" y1="601.50" x2="435.30" y2="595.20" stroke="#000" stroke-width="1.5"/>
<line x1="452.30" y1="601.50" x2="452.30" y2="598.60" stroke="#000" stroke-width="1.5"/>
<line x1="44.50" y1="601.50" x2="469.00" y2="601.50" stroke="#000" stroke-width="1.4"/>
<line x1="44.50" y1="601.50" x2="44.50" y2="605.30" stroke="#000" stroke-width="1.2"/>
<text x="44.5" y="614.8" font-size="7.5" text-anchor="middle" fill="#000">300</text>
<line x1="94.50" y1="601.50" x2="94.50" y2="605.30" stroke="#000" stroke-width="1.2"/>
<text x="94.5" y="614.8" font-size="7.5" text-anchor="middle" fill="#000">500</text>
<line x1="144.50" y1="601.50" x2="144.50" y2="605.30" stroke="#000" stroke-width="1.2"/>
<text x="144.5" y="614.8" font-size="7.5" text-anchor="middle" fill="#000">700</text>
<line x1="194.50" y1="601.50" x2="194.50" y2="605.30" stroke="#000" stroke-width="1.2"/>
<text x="194.5" y="614.8" font-size="7.5" text-anchor="middle" fill="#000">900</text>
<line x1="244.50" y1="601.50" x2="244.50" y2="605.30" stroke="#000" stroke-width="1.2"/>
<text x="244.5" y="614.8" font-size="7.5" text-anchor="middle" fill="#000">1100</text>
<line x1="294.50" y1="601.50" x2="294.50" y2="605.30" stroke="#000" stroke-width="1.2"/>
<text x="294.5" y="614.8" font-size="7.5" text-anchor="middle" fill="#000">1300</text>
<line x1="344.50" y1="601.50" x2="344.50" y2="605.30" stroke="#000" stroke-width="1.2"/>
<text x="344.5" y="614.8" font-size="7.5" text-anchor="middle" fill="#000">1500</text>
<line x1="394.50" y1="601.50" x2="394.50" y2="605.30" stroke="#000" stroke-width="1.2"/>
<text x="394.5" y="614.8" font-size="7.5" text-anchor="middle" fill="#000">1700</text>
<line x1="444.50" y1="601.50" x2="444.50" y2="605.30" stroke="#000" stroke-width="1.2"/>
<text x="444.5" y="614.8" font-size="7.5" text-anchor="middle" fill="#000">1900</text>
<text x="108.49" y="548.0" font-size="12.3">b</text>
<text x="115.73" y="548.0" font-size="7.6" textLength="23.8" lengthAdjust="spacingAndGlyphs">6-H2O</text>
<text x="121.49" y="536.4" font-size="12.3">b</text>
<text x="128.73" y="536.4" font-size="7.6" textLength="23.8" lengthAdjust="spacingAndGlyphs">7-H2O</text>
<text x="158.88" y="520.6" font-size="12.3">y</text>
<text x="165.03" y="520.6" font-size="7.6">7</text>
<text x="183.98" y="570.9" font-size="12.3">y</text>
<text x="190.13" y="570.9" font-size="7.6">8</text>
<text x="184.98" y="535.7" font-size="12.3">y</text>
<text x="191.13" y="535.7" font-size="7.6">9</text>
<text x="199.08" y="517.8" font-size="12.3">y</text>
<text x="205.23" y="517.8" font-size="7.6">17</text>
<text x="205.23" y="510.80" font-size="5.8">+2</text>
<text x="209.58" y="550.1" font-size="12.3">y</text>
<text x="215.73" y="550.1" font-size="7.6">18</text>
<text x="215.73" y="543.10" font-size="5.8">+2</text>
<text x="226.68" y="523.1" font-size="12.3">y</text>
<text x="232.83" y="523.1" font-size="7.6">10</text>
<text x="249.58" y="558.6" font-size="12.3">y</text>
<text x="255.73" y="558.6" font-size="7.6">11</text>
<text x="286.98" y="547.4" font-size="12.3">y</text>
<text x="293.13" y="547.4" font-size="7.6">12</text>
<text x="310.69" y="571.0" font-size="12.3">b</text>
<text x="317.93" y="571.0" font-size="7.6">13</text>
<text x="325.28" y="481.2" font-size="12.3">y</text>
<text x="331.43" y="481.2" font-size="7.6">13</text>
<text x="349.38" y="569.4" font-size="12.3">y</text>
<text x="355.53" y="569.4" font-size="7.6">14</text>
<text x="379.68" y="583.3" font-size="12.3">y</text>
<text x="385.83" y="583.3" font-size="7.6">15</text>
<text x="432.38" y="584.6" font-size="12.3">y</text>
<text x="438.53" y="584.6" font-size="7.6">17</text>
<text x="71.7" y="595.4" font-size="6.5">424.1</text>
<text x="96.2" y="595.0" font-size="6.5">522.1</text>
<text x="113.5" y="595.0" font-size="6.5">591.2</text>
<text x="120.9" y="555.8" font-size="6.5">635.2</text>
<text x="141.0" y="595.0" font-size="6.5">706.0</text>
<text x="143.3" y="556.9" font-size="6.5">734.2</text>
<text x="155.5" y="531.7" font-size="6.5">759.3</text>
<text x="180.1" y="583.5" font-size="6.5">873.3</text>
<text x="183.3" y="544.1" font-size="6.5">930.4</text>
<text x="199.0" y="531.2" font-size="6.5">932.6</text>
<text x="207.6" y="561.2" font-size="6.5">968.2</text>
<text x="222.8" y="534.3" font-size="6.5">1031.4</text>
<text x="247.4" y="569.9" font-size="6.5">1130.5</text>
<text x="284.4" y="557.2" font-size="6.5">1277.5</text>
<text x="308.7" y="579.2" font-size="6.5">1433.4</text>
<text x="308.7" y="588.9" font-size="6.5">1376.6</text>
<text x="324.8" y="492.7" font-size="6.5">1440.5</text>
<text x="349.8" y="581.5" font-size="6.5">1539.5</text>
<text x="377.8" y="593.3" font-size="6.5">1652.5</text>
<text x="430.6" y="594.6" font-size="6.5">1864.8</text>
<line x1="144.40" y1="538.20" x2="149.80" y2="550.90" stroke="#555" stroke-width="0.6"/>
<line x1="199.20" y1="544.70" x2="201.90" y2="547.80" stroke="#555" stroke-width="0.6"/>
<line x1="251.00" y1="526.30" x2="251.00" y2="536.40" stroke="#555" stroke-width="1.3"/>
<line x1="289.00" y1="526.30" x2="289.00" y2="536.40" stroke="#555" stroke-width="1.3"/>
<line x1="251.00" y1="532.10" x2="289.00" y2="532.10" stroke="#555" stroke-width="1.3"/>
<text x="253.3" y="524.4" font-size="11" font-weight="bold" textLength="38.0" lengthAdjust="spacingAndGlyphs" fill="#000">Met+16</text>
<text x="352.1" y="488.3" font-size="11.2" font-weight="bold" textLength="166.7" lengthAdjust="spacingAndGlyphs" fill="#000">EQAPNLVYM(O)VTGNPASDEIK</text>
<text x="410.1" y="472.8" font-size="7.5" textLength="11.2" lengthAdjust="spacingAndGlyphs" fill="#000">y12</text>
<text x="437.4" y="472.8" font-size="7.5" textLength="10.4" lengthAdjust="spacingAndGlyphs" fill="#000">y11</text>
<path d="M416 473.2 L412.8 476.6 V492.3 M442.8 473.2 L438.5 476.6 V492.3" stroke="#555" stroke-width="0.7" fill="none"/>
</svg>
</body></html>
